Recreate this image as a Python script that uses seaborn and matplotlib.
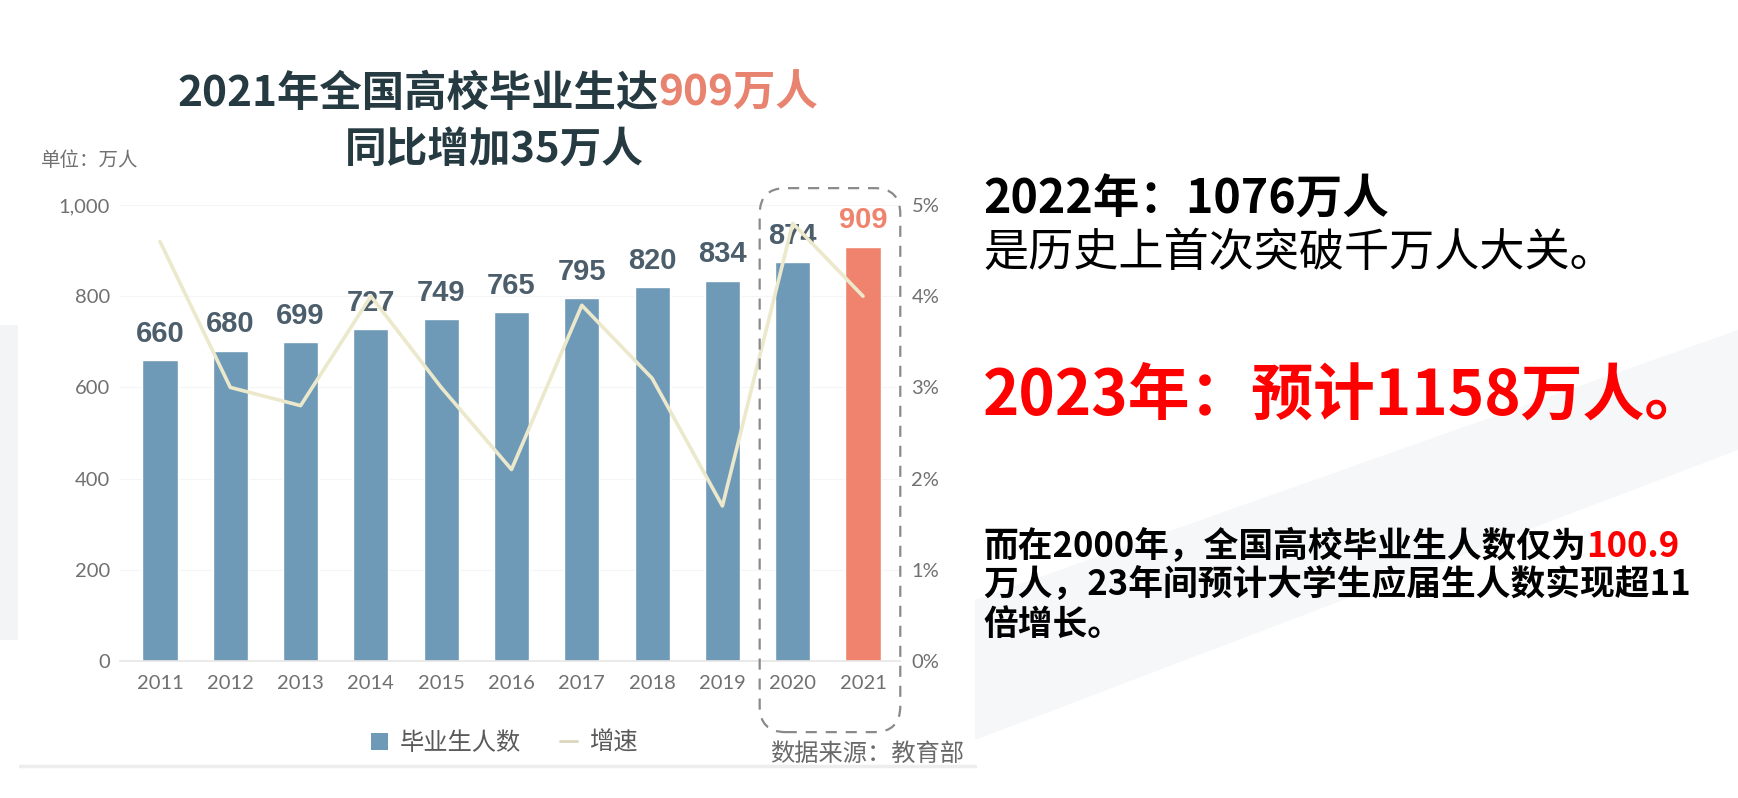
import numpy as np
import pandas as pd
import matplotlib
matplotlib.use("Agg")
import matplotlib.pyplot as plt
import seaborn as sns
from matplotlib.patches import Patch, FancyBboxPatch, Polygon
from matplotlib.lines import Line2D
from matplotlib.transforms import IdentityTransform

# ---------------- data ----------------
years = ["2011", "2012", "2013", "2014", "2015", "2016", "2017", "2018", "2019", "2020", "2021"]
graduates = [660, 680, 699, 727, 749, 765, 795, 820, 834, 874, 909]
growth_pct = [4.6, 3.0, 2.8, 4.0, 3.0, 2.1, 3.9, 3.1, 1.7, 4.8, 4.0]
left_ticks = [0, 200, 400, 600, 800, 1000]
left_tick_labels = ["0", "200", "400", "600", "800", "1,000"]
right_ticks = [0, 1, 2, 3, 4, 5]
right_tick_labels = ["0%", "1%", "2%", "3%", "4%", "5%"]
highlight_years = ["2020", "2021"]

# ---------------- style ----------------
sns.set_theme(style="white")
plt.rcParams["font.family"] = ["Noto Sans CJK SC", "DejaVu Sans"]

BLUE = "#6E9AB8"
SALMON = "#F0836D"
LABEL = "#4C5E6C"
LINE = "#ECE8CB"
TITLE = "#263A42"
GREY = "#707070"

W, H = 1738, 798
fig = plt.figure(figsize=(W / 100, H / 100), dpi=100)
fig.patch.set_facecolor("white")

# background decoration (figure space)
bg = fig.add_axes([0, 0, 1, 1], zorder=-5)
bg.set_xlim(0, W)
bg.set_ylim(H, 0)
bg.axis("off")
bg.add_patch(Polygon([(975, 600), (1738, 330), (1738, 450), (975, 740)], closed=True,
                     facecolor="#F6F7F8", edgecolor="none"))
bg.add_patch(Polygon([(0, 325), (18, 325), (18, 640), (0, 640)], closed=True,
                     facecolor="#F3F4F5", edgecolor="none"))
bg.plot([20, 975], [766, 766], color="#EDEDED", lw=2.5)

# ---------------- main chart ----------------
df = pd.DataFrame({"year": years, "graduates": graduates, "growth": growth_pct})
palette = {y: (SALMON if y == years[-1] else BLUE) for y in years}

ax = fig.add_axes([0.069, 0.1717, 0.449, 0.5714])
sns.barplot(data=df, x="year", y="graduates", hue="year", palette=palette,
            legend=False, width=0.5, saturation=1, ax=ax)
ax.set_xlim(-0.57, 10.53)
ax.set_ylim(0, 1000)
ax.set_xlabel("")
ax.set_ylabel("")
for s in ["top", "right", "left"]:
    ax.spines[s].set_visible(False)
ax.spines["bottom"].set_color("#E6E6E6")
ax.spines["bottom"].set_linewidth(1.2)
ax.set_yticks(left_ticks)
ax.set_yticklabels(left_tick_labels)
ax.tick_params(axis="y", length=0, pad=7, labelsize=14.5, labelcolor=GREY)
ax.tick_params(axis="x", length=0, pad=10, labelsize=14.5, labelcolor=GREY)
for lab in ax.get_xticklabels() + ax.get_yticklabels():
    lab.set_fontfamily("Lato")
ax.yaxis.grid(True, color="#F5F5F5", lw=0.8)
ax.set_axisbelow(True)
ax.patch.set_alpha(0)

for i, cont in enumerate(ax.containers):
    yr = years[i] if len(ax.containers) == len(years) else None
    col = SALMON if yr == years[-1] else LABEL
    ax.bar_label(cont, labels=[str(int(round(b.get_height()))) for b in cont],
                 padding=9, fontsize=21, fontweight="bold", color=col,
                 fontfamily="Liberation Sans")

# growth line on secondary axis
ax2 = ax.twinx()
sns.lineplot(x=np.arange(len(years)), y=growth_pct, color=LINE, lw=2.6, ax=ax2)
ax2.set_ylim(0, 5)
ax2.set_yticks(right_ticks)
ax2.set_yticklabels(right_tick_labels)
ax2.tick_params(axis="y", length=0, pad=8, labelsize=14.5, labelcolor=GREY)
for lab in ax2.get_yticklabels():
    lab.set_fontfamily("Lato")
for s in ["top", "right", "left", "bottom"]:
    ax2.spines[s].set_visible(False)
ax2.set_ylabel("")

# dashed rounded box around the highlighted years (display-space from data positions)
fig.canvas.draw()
i0 = years.index(highlight_years[0])
i1 = years.index(highlight_years[-1])
p0 = ax.transData.transform((i0 - 0.47, -156))
p1 = ax.transData.transform((i1 + 0.53, 1037))
box = FancyBboxPatch((p0[0], p0[1]), p1[0] - p0[0], p1[1] - p0[1],
                     boxstyle="round,pad=0,rounding_size=26",
                     transform=IdentityTransform(), fill=False,
                     edgecolor="#8A8A8A", lw=1.6, linestyle=(0, (5, 4)))
fig.add_artist(box)

# ---------------- texts ----------------
def chain(x, y, parts, size, weight, family=None):
    kw = dict(fontsize=size, fontweight=weight)
    if family:
        kw["fontfamily"] = family
    prev = bg.text(x, y, parts[0][0], color=parts[0][1], ha="left", va="center", **kw)
    for s, c in parts[1:]:
        prev = bg.annotate(s, xy=(1, 0), xycoords=prev, ha="left", va="bottom",
                           color=c, annotation_clip=False, **kw)
    return prev

chain(177, 94, [("2021年全国高校毕业生达", TITLE), ("909万人", "#E8836F")], 30.5, "bold")
bg.text(494, 150, "同比增加35万人", ha="center", va="center", fontsize=30,
        fontweight="bold", color=TITLE)
bg.text(41, 161, "单位：万人", ha="left", va="center", fontsize=14, color="#707070")

legend_handles = [Patch(facecolor=BLUE, edgecolor="none"),
                  Line2D([], [], color="#DAD6BE", lw=2)]
fig.legend(legend_handles, ["毕业生人数", "增速"], loc="center",
           bbox_to_anchor=(0.29, 0.069), ncol=2, frameon=False, fontsize=17.5,
           handlelength=0.7, handleheight=0.7, handletextpad=0.5,
           columnspacing=1.6, labelcolor="#5A5A5A")
bg.text(964, 754, "数据来源：教育部", ha="right", va="center", fontsize=17.5, color="#6A6A6A")

# right-hand commentary
chain(983, 200, [("2022年：1076万人", "black")], 33.5, "bold")
chain(983, 253, [("是历史上首次突破千万人大关。", "black")], 32.5, "normal")
chain(983, 396, [("2023年：预计1158万人。", "#FF0000")], 44.5, "bold")
chain(983, 546, [("而在2000年，全国高校毕业生人数仅为", "black"), ("100.9", "#FF0000")], 25, "bold")
chain(983, 585, [("万人，23年间预计大学生应届生人数实现超11", "black")], 25, "bold")
chain(983, 624, [("倍增长。", "black")], 25, "bold")

fig.savefig("out.png", dpi=100)
